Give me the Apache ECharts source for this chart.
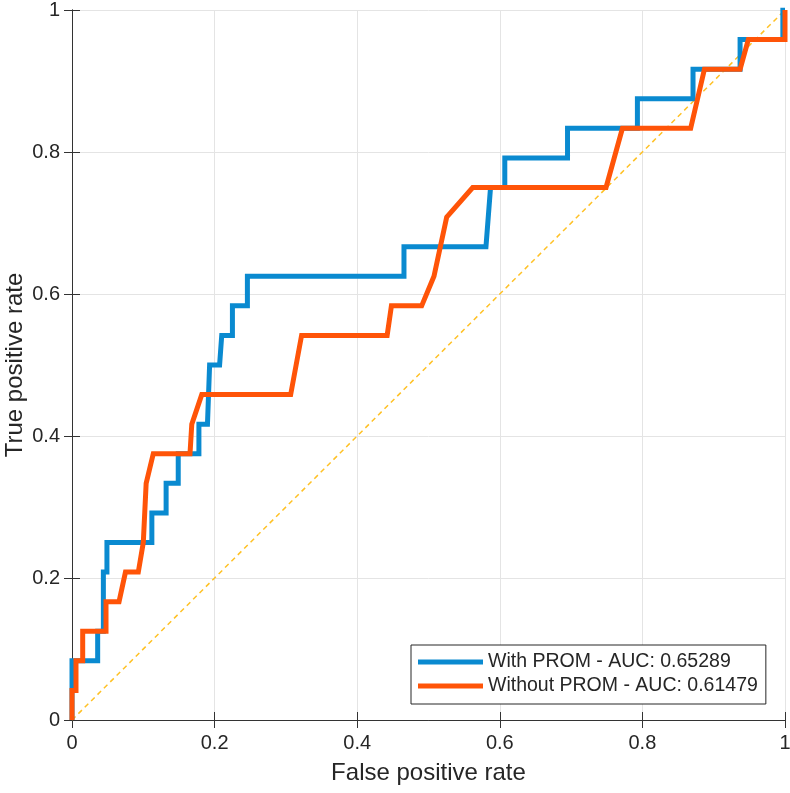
<!DOCTYPE html>
<html>
<head>
<meta charset="utf-8">
<script src="https://cdn.jsdelivr.net/npm/echarts@6/dist/echarts.min.js"></script>
<style>
    html, body {margin: 0; padding: 0; background: #fff;}
    #chart {width: 790px; height: 793px;}
</style>
</head>
<body>
<div id="chart"></div>
<script>
// ROC 曲线数据
const withPromX = [0, 0, 0.036, 0.036, 0.044, 0.044, 0.049, 0.049, 0.112, 0.112, 0.132, 0.132, 0.149, 0.149,
    0.178, 0.178, 0.19, 0.193, 0.207, 0.21, 0.225, 0.225, 0.246, 0.246, 0.4656, 0.4656, 0.5806, 0.587,
    0.607, 0.607, 0.695, 0.695, 0.793, 0.793, 0.871, 0.871, 0.937, 0.937, 0.997, 0.997, 1];
const withPromY = [0, 0.0833, 0.0833, 0.125, 0.125, 0.2083, 0.2083, 0.25, 0.25, 0.2917, 0.2917, 0.3333, 0.3333, 0.375,
    0.375, 0.4167, 0.4167, 0.5, 0.5, 0.5417, 0.5417, 0.5833, 0.5833, 0.625, 0.625, 0.6667, 0.6667, 0.75,
    0.75, 0.7917, 0.7917, 0.8333, 0.8333, 0.875, 0.875, 0.9167, 0.9167, 0.9583, 0.9583, 1, 1];
const withoutPromX = [0, 0, 0.0056, 0.0056, 0.015, 0.015, 0.0477, 0.0477, 0.066, 0.075, 0.093, 0.1, 0.104, 0.114,
    0.1655, 0.168, 0.182, 0.3067, 0.322, 0.442, 0.448, 0.4904, 0.5077, 0.5255, 0.562, 0.749, 0.772,
    0.8677, 0.887, 0.937, 0.9486, 1, 1];
const withoutPromY = [0, 0.0417, 0.0417, 0.0833, 0.0833, 0.125, 0.125, 0.1667, 0.1667, 0.2083, 0.2083, 0.25, 0.3333, 0.375,
    0.375, 0.4167, 0.4583, 0.4583, 0.5417, 0.5417, 0.5833, 0.5833, 0.625, 0.7083, 0.75, 0.75, 0.8333,
    0.8333, 0.9167, 0.9167, 0.9583, 0.9583, 1];
const chanceX = [0, 1];
const chanceY = [0, 1];
const seriesNames = ['With PROM - AUC: 0.65289', 'Without PROM - AUC: 0.61479'];
const tickValues = [0, 0.2, 0.4, 0.6, 0.8, 1];

function zip(xs, ys) {
    return xs.map(function (x, i) {
        return [x, ys[i]];
    });
}

const font = 'Liberation Sans, Arial, sans-serif';
const lineColor = '#333';
const textColor = '#262626';

const baseAxis = {
    type: 'value',
    min: 0,
    max: 1,
    interval: 0.2,
    axisLine: {show: true, lineStyle: {color: lineColor, width: 1}},
    axisTick: {show: true, inside: true, length: 8, lineStyle: {color: lineColor}},
    splitLine: {show: true, lineStyle: {color: '#e4e4e4', width: 1}},
    axisLabel: {
        color: textColor, fontSize: 20, fontFamily: font,
        formatter: function (v) {
            return tickValues.indexOf(Math.round(v * 10) / 10) >= 0 ? String(Math.round(v * 10) / 10) : '';
        }
    },
    nameTextStyle: {color: textColor, fontSize: 24, fontFamily: font},
    nameLocation: 'middle',
    nameMoveOverlap: false
};

const option = {
    animation: false,
    backgroundColor: '#fff',
    grid: {left: 72, right: 5, top: 10, bottom: 73, containLabel: false, outerBoundsMode: 'none'},
    xAxis: [
        Object.assign({}, baseAxis, {name: 'False positive rate', nameGap: 41, position: 'bottom',
            axisLabel: Object.assign({}, baseAxis.axisLabel, {margin: 13})}),
        Object.assign({}, baseAxis, {position: 'top', axisLabel: {show: false}, splitLine: {show: false}})
    ],
    yAxis: [
        Object.assign({}, baseAxis, {name: 'True positive rate', nameGap: 45, position: 'left',
            axisLabel: Object.assign({}, baseAxis.axisLabel, {margin: 12})}),
        Object.assign({}, baseAxis, {position: 'right', axisLabel: {show: false}, splitLine: {show: false}})
    ],
    legend: {
        orient: 'vertical',
        left: 411,
        top: 645,
        data: seriesNames,
        icon: 'rect',
        itemWidth: 65,
        itemHeight: 5,
        itemGap: 4,
        padding: [7, 8, 8, 7],
        borderColor: '#262626',
        borderWidth: 1,
        backgroundColor: '#fff',
        textStyle: {color: textColor, fontSize: 19.5, fontFamily: font}
    },
    series: [
        {
            name: 'chance',
            type: 'line',
            data: zip(chanceX, chanceY),
            showSymbol: false,
            lineStyle: {color: '#FFC125', width: 1.5, type: [5, 4]},
            z: 1
        },
        {
            name: seriesNames[0],
            type: 'line',
            data: zip(withPromX, withPromY),
            showSymbol: false,
            itemStyle: {color: '#0A8AD0'},
            lineStyle: {color: '#0A8AD0', width: 5, join: 'miter'},
            z: 2
        },
        {
            name: seriesNames[1],
            type: 'line',
            data: zip(withoutPromX, withoutPromY),
            showSymbol: false,
            itemStyle: {color: '#FF5408'},
            lineStyle: {color: '#FF5408', width: 5, join: 'miter'},
            z: 3
        }
    ]
};

const myChart = echarts.init(document.getElementById('chart'));
myChart.setOption(option);
</script>
</body>
</html>
